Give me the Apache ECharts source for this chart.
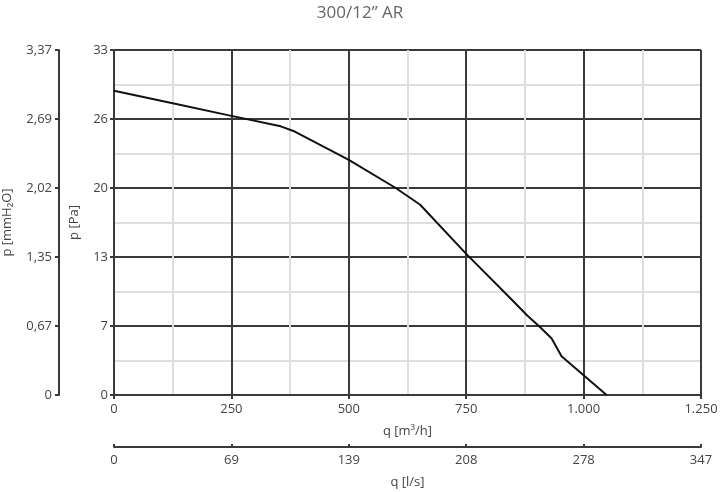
<!DOCTYPE html>
<html>
<head>
<meta charset="utf-8">
<script src="https://cdn.jsdelivr.net/npm/echarts@6/dist/echarts.min.js"></script>
<style>
	html, body {margin: 0; padding: 0; background: #fff;}
	#main {width: 720px; height: 492px;}
</style>
</head>
<body>
<div id="main"></div>
<script>
// fan curve, q in m3/h, p in Pa
const flow = [0, 125, 250, 355, 385, 500, 600, 652, 750, 843, 880, 907, 932, 953, 1000, 1049];
const pressure = [29.1, 27.9, 26.7, 25.7, 25.2, 22.5, 19.8, 18.2, 13.5, 9.3, 7.6, 6.5, 5.4, 3.7, 1.9, 0];

const paLabels = ['0', '7', '13', '20', '26', '33'];
const mmLabels = ['0', '0,67', '1,35', '2,02', '2,69', '3,37'];
const m3hLabels = ['0', '250', '500', '750', '1.000', '1.250'];
const lsLabels = ['0', '69', '139', '208', '278', '347'];

const dark = '#3a3a3a';
const light = '#dedede';
const txt = '#444';
const font = 'Open Sans';

const chart = echarts.init(document.getElementById('main'), null, {renderer: 'canvas'});

const pick = (arr, step) => v => arr[Math.round(v / step)] ?? '';

chart.setOption({
	animation: false,
	textStyle: {fontFamily: font},
	title: {
		text: '300/12\u201D AR',
		left: 'center',
		top: 0,
		textStyle: {fontSize: 17, fontWeight: 'normal', color: '#666', fontFamily: font}
	},
	grid: {left: 114, right: 19, top: 50, bottom: 97, containLabel: false, outerBoundsMode: 'none'},
	xAxis: [
		{
			type: 'value', min: 0, max: 1250, interval: 250, position: 'bottom',
			name: 'q [m\u00B3/h]', nameLocation: 'middle', nameGap: 30,
			nameTextStyle: {color: txt, fontSize: 13},
			axisLine: {onZero: false, lineStyle: {color: dark, width: 2}},
			axisTick: {show: true, length: 4, lineStyle: {color: dark, width: 2}},
			axisLabel: {color: txt, fontSize: 13, margin: 8, formatter: pick(m3hLabels, 250)},
			splitLine: {show: true, lineStyle: {color: dark, width: 2}},
			minorTick: {show: false, splitNumber: 2},
			minorSplitLine: {show: true, lineStyle: {color: light, width: 2}}
		},
		{
			type: 'value', min: 0, max: 347, interval: 69.4, position: 'bottom', offset: 52,
			name: 'q [l/s]', nameLocation: 'middle', nameGap: 29,
			nameTextStyle: {color: txt, fontSize: 13},
			axisLine: {show: true, onZero: false, lineStyle: {color: dark, width: 2}},
			axisTick: {show: true, inside: true, length: 3, lineStyle: {color: dark, width: 2}},
			axisLabel: {color: txt, fontSize: 13, margin: 7, formatter: pick(lsLabels, 69.4)},
			splitLine: {show: false}
		}
	],
	yAxis: [
		{
			type: 'value', min: 0, max: 33, interval: 6.6, position: 'left',
			name: 'p [Pa]', nameLocation: 'middle', nameGap: 33, nameRotate: 90,
			nameTextStyle: {color: txt, fontSize: 13},
			axisLine: {show: true, onZero: false, lineStyle: {color: dark, width: 2}},
			axisTick: {show: true, length: 4, lineStyle: {color: dark, width: 2}},
			axisLabel: {color: txt, fontSize: 13, margin: 6, formatter: pick(paLabels, 6.6)},
			splitLine: {show: true, lineStyle: {color: dark, width: 2}},
			minorTick: {show: false, splitNumber: 2},
			minorSplitLine: {show: true, lineStyle: {color: light, width: 2}}
		},
		{
			type: 'value', min: 0, max: 3.37, interval: 0.674, position: 'left', offset: 55,
			name: 'p [mmH\u2082O]', nameLocation: 'middle', nameGap: 45, nameRotate: 90,
			nameTextStyle: {color: txt, fontSize: 13},
			axisLine: {show: true, onZero: false, lineStyle: {color: dark, width: 2}},
			axisTick: {show: true, length: 4, lineStyle: {color: dark, width: 2}},
			axisLabel: {color: txt, fontSize: 13, margin: 7, formatter: pick(mmLabels, 0.674)},
			splitLine: {show: false}
		}
	],
	series: [{
		type: 'line',
		xAxisIndex: 0,
		yAxisIndex: 0,
		data: flow.map((q, i) => [q, pressure[i]]),
		showSymbol: false,
		smooth: false,
		lineStyle: {color: '#111', width: 2},
		z: 5
	}]
});
</script>
</body>
</html>
